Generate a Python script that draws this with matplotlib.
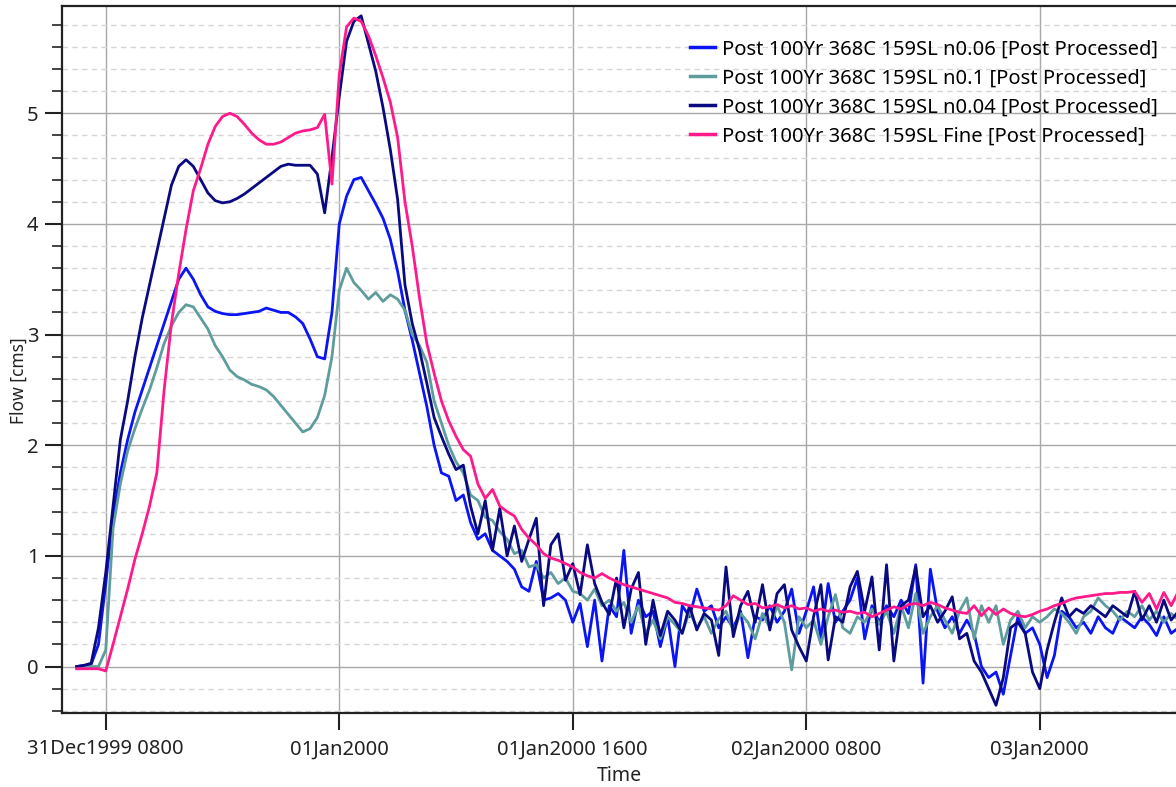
import matplotlib

matplotlib.use("Agg")
import matplotlib.pyplot as plt  # noqa: E402
from matplotlib.ticker import MultipleLocator  # noqa: E402
import pandas as pd  # noqa: E402

plt.rcParams["font.family"] = ["Noto Sans", "DejaVu Sans"]

# 30-minute output interval, 31Dec1999 0600 onwards
times = pd.date_range("1999-12-31 06:00", periods=152, freq="30min")

flow_n006 = [
    0.0, 0.01, 0.02, 0.2, 0.75, 1.35, 1.75, 2.05, 2.3, 2.5,
    2.7, 2.9, 3.1, 3.3, 3.5, 3.6, 3.5, 3.36, 3.25, 3.21,
    3.19, 3.18, 3.18, 3.19, 3.2, 3.21, 3.24, 3.22, 3.2, 3.2,
    3.16, 3.1, 2.96, 2.8, 2.78, 3.2, 4.0, 4.25, 4.4, 4.42,
    4.3, 4.18, 4.05, 3.86, 3.57, 3.22, 2.95, 2.65, 2.35, 2.0,
    1.75, 1.72, 1.5, 1.55, 1.3, 1.15, 1.2, 1.05, 1.0, 0.95,
    0.88, 0.72, 0.68, 0.95, 0.6, 0.62, 0.66, 0.6, 0.4, 0.57,
    0.18, 0.6, 0.05, 0.55, 0.45, 1.05, 0.3, 0.6, 0.45, 0.5,
    0.18, 0.45, 0.0, 0.55, 0.45, 0.7, 0.5, 0.55, 0.35, 0.45,
    0.35, 0.5, 0.08, 0.45, 0.42, 0.55, 0.4, 0.5, 0.7, 0.3,
    0.5, 0.72, 0.25, 0.75, 0.4, 0.5, 0.6, 0.8, 0.25, 0.55,
    0.4, 0.55, 0.45, 0.6, 0.48, 0.92, -0.15, 0.88, 0.5, 0.35,
    0.45, 0.3, 0.42, 0.3, 0.0, -0.1, -0.05, -0.25, 0.1, 0.45,
    0.3, 0.35, 0.2, -0.1, 0.1, 0.5, 0.45, 0.35, 0.4, 0.3,
    0.45, 0.35, 0.3, 0.45, 0.4, 0.35, 0.45, 0.38, 0.28, 0.45,
    0.3, 0.35,
]
flow_n01 = [
    0.0, -0.01, 0.0, 0.0, 0.15, 1.25, 1.65, 1.95, 2.15, 2.33,
    2.5, 2.7, 2.92, 3.08, 3.2, 3.27, 3.25, 3.15, 3.05, 2.9,
    2.8, 2.68, 2.62, 2.59, 2.55, 2.53, 2.5, 2.44, 2.36, 2.28,
    2.2, 2.12, 2.15, 2.25, 2.45, 2.8, 3.4, 3.6, 3.47, 3.4,
    3.32, 3.38, 3.3, 3.36, 3.32, 3.22, 3.0, 2.9, 2.75, 2.4,
    2.2, 2.0, 1.85, 1.75, 1.55, 1.5, 1.35, 1.32, 1.22, 1.15,
    1.02, 1.05, 0.9, 0.92, 0.8, 0.85, 0.75, 0.8, 0.68, 0.66,
    0.6, 0.7, 0.55, 0.6, 0.5, 0.58, 0.4, 0.55, 0.3, 0.42,
    0.25, 0.45, 0.38, 0.3, 0.5, 0.35, 0.45, 0.3, 0.43, 0.5,
    0.32, 0.48, 0.4, 0.25, 0.48, 0.35, 0.55, 0.4, -0.03, 0.45,
    0.35, 0.42, 0.2, 0.45, 0.65, 0.35, 0.3, 0.45, 0.4, 0.52,
    0.38, 0.5, 0.3, 0.55, 0.35, 0.66, 0.3, 0.45, 0.55, 0.42,
    0.3, 0.5, 0.62, 0.25, 0.55, 0.4, 0.55, 0.2, 0.42, 0.5,
    0.35, 0.45, 0.4, 0.45, 0.52, 0.48, 0.4, 0.3, 0.45, 0.5,
    0.62, 0.55, 0.5, 0.42, 0.5, 0.45, 0.55, 0.42, 0.5, 0.4,
    0.48, 0.42,
]
flow_n004 = [
    0.0, 0.01, 0.03, 0.35, 0.85, 1.45, 2.05, 2.4, 2.8, 3.15,
    3.45, 3.75, 4.05, 4.35, 4.52, 4.58, 4.52, 4.4, 4.28, 4.21,
    4.19, 4.2, 4.23, 4.27, 4.32, 4.37, 4.42, 4.47, 4.52, 4.54,
    4.53, 4.53, 4.53, 4.45, 4.1, 4.6, 5.15, 5.65, 5.83, 5.88,
    5.63, 5.38, 5.05, 4.67, 4.22, 3.45, 3.1, 2.86, 2.56, 2.25,
    2.08, 1.92, 1.78, 1.82, 1.45, 1.2, 1.5, 1.05, 1.43, 1.0,
    1.27, 0.95, 1.15, 1.34, 0.55, 1.1, 1.2, 0.78, 0.93, 0.65,
    1.1, 0.75, 0.58, 0.47, 0.8, 0.35, 0.7, 0.85, 0.2, 0.6,
    0.28, 0.5, 0.42, 0.3, 0.55, 0.33, 0.48, 0.42, 0.1, 0.9,
    0.27, 0.55, 0.68, 0.4, 0.74, 0.33, 0.66, 0.74, 0.33, 0.18,
    0.05, 0.45, 0.74, 0.06, 0.45, 0.4, 0.72, 0.86, 0.5, 0.81,
    0.15, 0.92, 0.05, 0.55, 0.6, 0.9, 0.45, 0.55, 0.4, 0.5,
    0.63, 0.25, 0.3, 0.05, -0.05, -0.2, -0.35, -0.1, 0.35, 0.4,
    0.3, -0.05, -0.2, 0.15, 0.4, 0.62, 0.45, 0.52, 0.48, 0.55,
    0.5, 0.45, 0.55, 0.5, 0.45, 0.68, 0.42, 0.55, 0.4, 0.6,
    0.42, 0.5,
]
flow_fine = [
    -0.02, -0.02, -0.02, -0.02, -0.04, 0.2, 0.45, 0.7, 0.97, 1.2,
    1.45, 1.75, 2.5, 3.1, 3.55, 3.95, 4.3, 4.5, 4.72, 4.88,
    4.97, 5.0, 4.97, 4.9, 4.82, 4.76, 4.72, 4.72, 4.74, 4.78,
    4.82, 4.84, 4.85, 4.87, 4.99, 4.36, 5.35, 5.78, 5.86, 5.83,
    5.7, 5.52, 5.32, 5.1, 4.78, 4.2, 3.8, 3.33, 2.92, 2.65,
    2.4, 2.22, 2.08, 1.96, 1.9, 1.65, 1.52, 1.6, 1.45, 1.4,
    1.36, 1.24, 1.16, 1.1, 1.02, 0.98, 0.96, 0.93, 0.9, 0.85,
    0.82, 0.8, 0.84, 0.8, 0.77, 0.74, 0.72, 0.7, 0.68, 0.66,
    0.64, 0.62, 0.58, 0.57, 0.55, 0.54, 0.53, 0.52, 0.51, 0.55,
    0.64, 0.6, 0.56, 0.57, 0.53, 0.54, 0.56, 0.53, 0.55, 0.52,
    0.53, 0.5, 0.52, 0.5, 0.51, 0.49, 0.5, 0.48, 0.49, 0.45,
    0.48, 0.51, 0.54, 0.52, 0.56, 0.57, 0.55, 0.58, 0.56, 0.53,
    0.51, 0.49, 0.48, 0.55, 0.46, 0.53, 0.47, 0.52, 0.48, 0.46,
    0.45, 0.47, 0.5, 0.52, 0.55, 0.57, 0.6, 0.62, 0.63, 0.64,
    0.65, 0.66, 0.66, 0.67, 0.67, 0.68, 0.58, 0.66, 0.52, 0.67,
    0.55, 0.68,
]

series = [flow_n006, flow_n01, flow_n004, flow_fine]
labels = [
    "Post 100Yr 368C 159SL n0.06 [Post Processed]",
    "Post 100Yr 368C 159SL n0.1 [Post Processed]",
    "Post 100Yr 368C 159SL n0.04 [Post Processed]",
    "Post 100Yr 368C 159SL Fine [Post Processed]",
]
colors = ["#0a14f5", "#5f9c9c", "#0a0a80", "#ff1a8c"]

tick_times = pd.to_datetime([
    "1999-12-31 08:00", "2000-01-01 00:00", "2000-01-01 16:00",
    "2000-01-02 08:00", "2000-01-03 00:00",
])
tick_labels = ["31Dec1999 0800", "01Jan2000", "01Jan2000 1600",
               "02Jan2000 0800", "03Jan2000"]

fig = plt.figure(figsize=(11.76, 7.87), dpi=100)
ax = fig.add_axes([0.0527, 0.094, 0.9473, 0.8985])

for vals, lab, col in zip(series, labels, colors):
    ax.plot(times, vals, color=col, lw=2.0, label=lab)

ax.set_xlim(pd.Timestamp("1999-12-31 05:00"), pd.Timestamp("2000-01-03 09:20"))
ax.set_ylim(-0.42, 5.97)

ax.set_xticks(tick_times)
ax.set_xticklabels(tick_labels)
ax.yaxis.set_major_locator(MultipleLocator(1))
ax.yaxis.set_minor_locator(MultipleLocator(0.2))

ax.grid(which="major", color="#a8a8a8", lw=1.0)
ax.yaxis.grid(which="minor", color="#d6d6d6", lw=1.0, ls=(0, (4, 3)))
ax.set_axisbelow(True)

for side in ("left", "bottom", "top"):
    ax.spines[side].set_color("#222222")
    ax.spines[side].set_linewidth(1.6)
ax.spines["right"].set_visible(False)

ax.tick_params(axis="both", which="major", length=12, width=1.5,
               color="#222222", labelsize=14.5, labelcolor="#222222")
ax.tick_params(axis="y", which="minor", length=7, width=1.2, color="#222222")
ax.tick_params(axis="x", pad=7)
ax.tick_params(axis="y", pad=5)

ax.set_xlabel("Time", fontsize=14, color="#222222", labelpad=5)
ax.set_ylabel("Flow [cms]", fontsize=12.5, color="#222222")
ax.yaxis.set_label_coords(-0.031, 0.47)

leg = ax.legend(loc="upper right", bbox_to_anchor=(0.995, 0.97), frameon=False,
                fontsize=14.5, handlelength=1.25, handletextpad=0.35,
                labelspacing=0.45, borderaxespad=0.2)
for line in leg.get_lines():
    line.set_linewidth(2.5)

fig.savefig("out.png", dpi=100)
